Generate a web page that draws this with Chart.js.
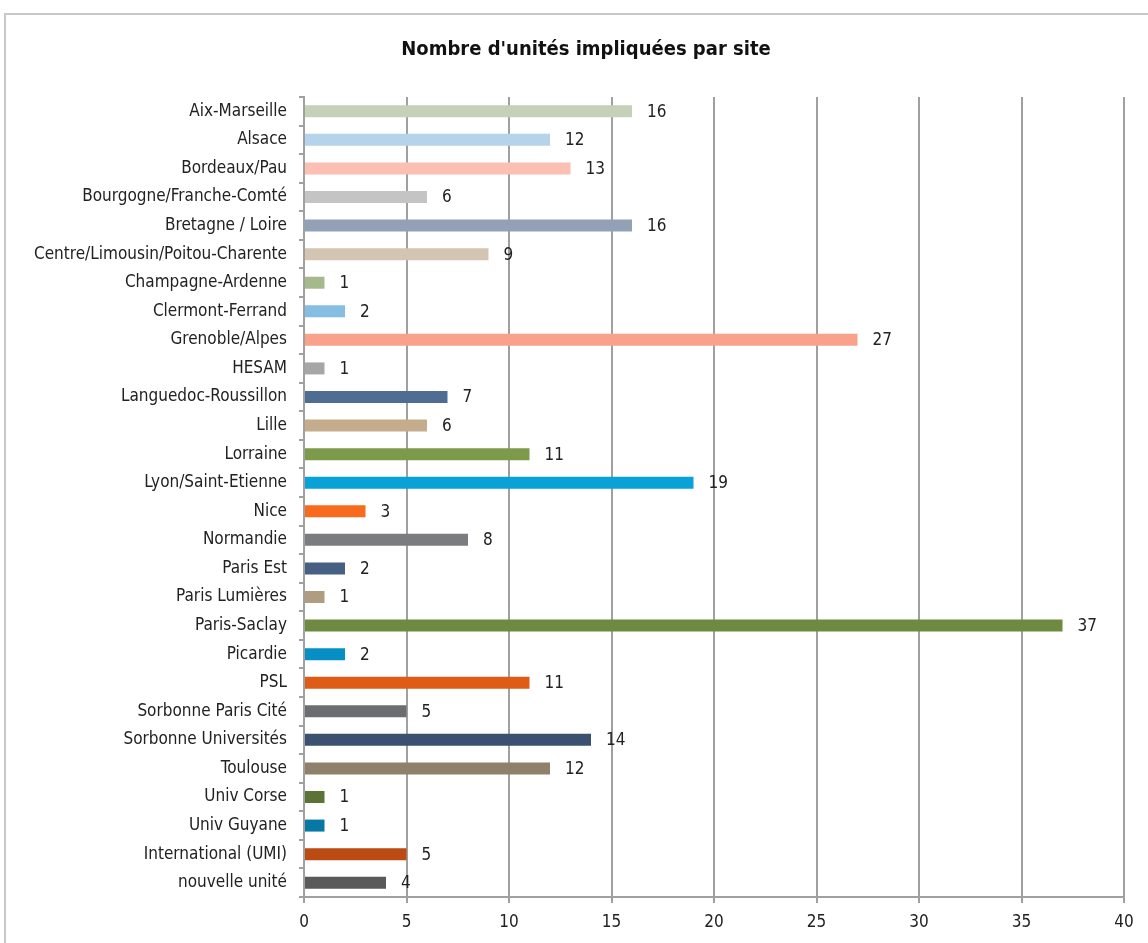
<!DOCTYPE html>
<html>
<head>
<meta charset="utf-8">
<script src="https://cdn.jsdelivr.net/npm/chart.js@4/dist/chart.umd.min.js"></script>
<style>
  html, body { margin: 0; padding: 0; background: #fff; }
  #wrap { width: 1148px; height: 943px; position: relative; }
</style>
</head>
<body>
<div id="wrap"><canvas id="c" width="1148" height="943"></canvas></div>
<script>
const sites = [
  "Aix-Marseille", "Alsace", "Bordeaux/Pau", "Bourgogne/Franche-Comté",
  "Bretagne / Loire", "Centre/Limousin/Poitou-Charente", "Champagne-Ardenne",
  "Clermont-Ferrand", "Grenoble/Alpes", "HESAM", "Languedoc-Roussillon",
  "Lille", "Lorraine", "Lyon/Saint-Etienne", "Nice", "Normandie", "Paris Est",
  "Paris Lumières", "Paris-Saclay", "Picardie", "PSL", "Sorbonne Paris Cité",
  "Sorbonne Universités", "Toulouse", "Univ Corse", "Univ Guyane",
  "International (UMI)", "nouvelle unité"
];
const unites = [16, 12, 13, 6, 16, 9, 1, 2, 27, 1, 7, 6, 11, 19, 3, 8, 2, 1, 37, 2, 11, 5, 14, 12, 1, 1, 5, 4];
const barColors = [
  "#c5d0b9", "#b5d3eb", "#fbc0b3", "#c4c4c4", "#93a1b7", "#d3c5b1", "#a6b98d",
  "#85bde3", "#f9a18a", "#a6a6a6", "#4f6c93", "#c4ac8c", "#7d9a4a", "#08a2d9",
  "#f86b1d", "#7b7c80", "#465f82", "#b09c7e", "#6e8a40", "#068fc4", "#df5c17",
  "#6b6d71", "#3c5070", "#8e806a", "#5b7435", "#0777a5", "#bb4b12", "#595959"
];
const xTicks = [0, 5, 10, 15, 20, 25, 30, 35, 40];
const chartTitle = "Nombre d'unités impliquées par site";

const FONT = "'Liberation Sans Narrow', 'Arial Narrow', 'DejaVu Sans Condensed', sans-serif";

// Frame around the whole chart, plus the title centred inside the frame
const framePlugin = {
  id: 'frame',
  beforeDraw(chart) {
    const ctx = chart.ctx;
    ctx.save();
    ctx.fillStyle = '#fff';
    ctx.fillRect(0, 0, chart.width, chart.height);
    ctx.strokeStyle = '#c8c8c8';
    ctx.lineWidth = 2;
    ctx.strokeRect(5, 14, chart.width + 10, chart.height + 10);
    ctx.font = 'bold 20px ' + FONT;
    ctx.fillStyle = '#111';
    ctx.textAlign = 'center';
    ctx.textBaseline = 'middle';
    ctx.fillText(chartTitle, 586, 50);
    ctx.restore();
  }
};

// Value written to the right of each bar
const valueLabels = {
  id: 'valueLabels',
  afterDatasetsDraw(chart) {
    const ctx = chart.ctx;
    const meta = chart.getDatasetMeta(0);
    ctx.save();
    ctx.font = '17px ' + FONT;
    ctx.fillStyle = '#222';
    ctx.textBaseline = 'middle';
    ctx.textAlign = 'left';
    meta.data.forEach((bar, i) => {
      ctx.fillText(String(unites[i]), bar.x + 15, bar.y + 1);
    });
    ctx.restore();
  }
};

new Chart(document.getElementById('c'), {
  type: 'bar',
  data: {
    labels: sites,
    datasets: [{
      data: unites,
      backgroundColor: barColors,
      borderWidth: 0,
      barPercentage: 0.42,
      categoryPercentage: 1.0
    }]
  },
  options: {
    indexAxis: 'y',
    responsive: false,
    animation: false,
    devicePixelRatio: 1,
    layout: { padding: { left: 0, right: 24, top: 97, bottom: 0 } },
    plugins: {
      legend: { display: false },
      tooltip: { enabled: false },
      title: { display: false }
    },
    scales: {
      x: {
        min: 0,
        max: 40,
        afterBuildTicks(scale) { scale.ticks = xTicks.map(v => ({ value: v })); },
        afterFit(scale) { scale.height = 46; },
        grid: {
          color: '#a0a0a0',
          lineWidth: 2,
          tickLength: 6,
          drawTicks: true
        },
        border: { color: '#a0a0a0', width: 2 },
        ticks: {
          color: '#222',
          padding: 9,
          font: { family: FONT, size: 17 }
        }
      },
      y: {
        afterFit(scale) { scale.width = 304; },
        grid: {
          drawOnChartArea: false,
          color: '#a0a0a0',
          lineWidth: 2,
          tickLength: 5,
          offset: true
        },
        border: { color: '#a0a0a0', width: 2 },
        ticks: {
          color: '#222',
          padding: 12,
          autoSkip: false,
          font: { family: FONT, size: 17 }
        }
      }
    }
  },
  plugins: [framePlugin, valueLabels]
});
</script>
</body>
</html>
